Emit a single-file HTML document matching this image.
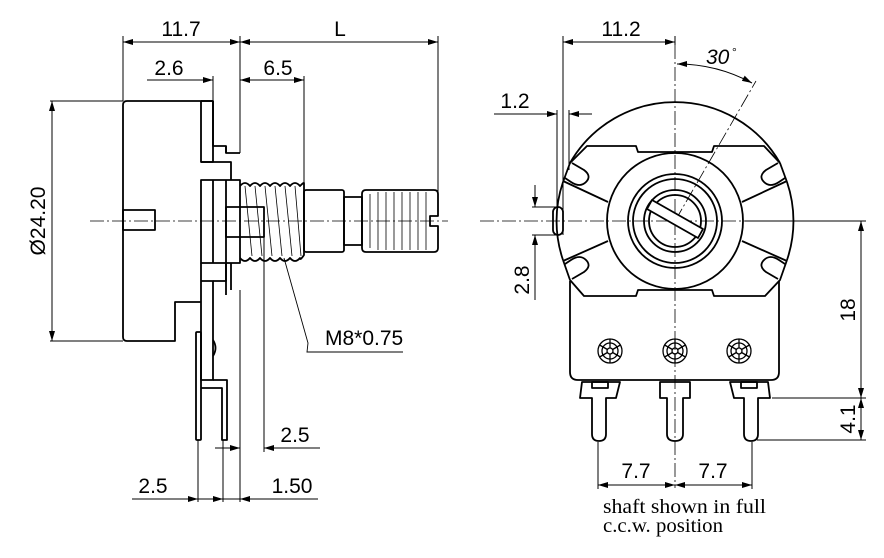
<!DOCTYPE html>
<html><head><meta charset="utf-8"><style>
html,body{margin:0;padding:0;background:#fff}
svg{display:block}
text{font-family:"Liberation Sans",sans-serif;font-size:21px;fill:#000}
.s{font-family:"Liberation Serif",serif;font-size:20px}
</style></head><body>
<svg width="884" height="558" viewBox="0 0 884 558" xmlns="http://www.w3.org/2000/svg">
<defs>
<marker id="a" viewBox="0 0 10 6" refX="10" refY="3" markerWidth="10" markerHeight="6" orient="auto-start-reverse" markerUnits="userSpaceOnUse"><path d="M0,0L10,3L0,6z" fill="#000"/></marker>
</defs>
<g fill="none" stroke="#000" stroke-width="1">
<line x1="123" y1="42" x2="240" y2="42" marker-start="url(#a)" marker-end="url(#a)"/>
<line x1="240" y1="42" x2="438" y2="42" marker-start="url(#a)" marker-end="url(#a)"/>
<line x1="123" y1="36" x2="123" y2="101"/>
<line x1="240" y1="36" x2="240" y2="153"/>
<line x1="438" y1="36" x2="438" y2="193"/>
<line x1="147" y1="80" x2="213" y2="80" marker-end="url(#a)"/>
<line x1="240" y1="80" x2="304" y2="80" marker-start="url(#a)" marker-end="url(#a)"/>
<line x1="213" y1="76" x2="213" y2="101"/>
<line x1="304" y1="76" x2="304" y2="183"/>
<line x1="50" y1="101" x2="123" y2="101"/>
<line x1="50" y1="341" x2="123" y2="341"/>
<line x1="52" y1="101" x2="52" y2="341" marker-start="url(#a)" marker-end="url(#a)"/>
<line x1="240" y1="290" x2="240" y2="502"/>
<line x1="264" y1="237" x2="264" y2="452"/>
<line x1="215" y1="448" x2="240" y2="448" marker-end="url(#a)"/>
<line x1="264" y1="448" x2="320" y2="448" marker-start="url(#a)"/>
<line x1="132" y1="499" x2="198" y2="499" marker-end="url(#a)"/>
<line x1="198" y1="499" x2="223" y2="499" marker-end="url(#a)"/>
<line x1="223" y1="499" x2="240" y2="499"/>
<line x1="240" y1="499" x2="318" y2="499" marker-start="url(#a)"/>
<line x1="198" y1="440" x2="198" y2="502"/>
<line x1="223" y1="440" x2="223" y2="502"/>
<polyline points="284,258 308,343 307,352 403,352" stroke-width="0.9"/>
<line x1="90" y1="221" x2="448" y2="221" stroke-dasharray="14,3,2,3" stroke-width="0.8"/>
</g>
<g fill="none" stroke="#000" stroke-width="1.8" stroke-linejoin="round">
<path d="M213,101 H127 Q123,101 123,105 V337 Q123,341 127,341 H175 V302 H201"/>
<path d="M201,101 H213 V146 H226 V153 H240"/>
<path d="M213,101 V162 H201 V101"/>
<path d="M201,162 H231 V180"/>
<path d="M226,146 V153"/>
<rect x="201" y="180" width="39" height="83"/>
<line x1="213" y1="180" x2="213" y2="263"/>
<line x1="226" y1="180" x2="226" y2="263"/>
<rect x="123" y="210" width="32" height="20"/>
<rect x="226" y="207" width="38" height="30"/>
<path d="M240,186 q5,-6 10,0 q5,-6 10,0 q5,-6 10,0 q5,-6 10,0 q5,-6 10,0 q5,-6 10,0 q4,-4 4,-3 V255 q-4,6 -4,3 q-5,6 -10,0 q-5,6 -10,0 q-5,6 -10,0 q-5,6 -10,0 q-5,6 -10,0 q-5,6 -10,0"/>
<rect x="304" y="190" width="40" height="62" rx="2"/>
<rect x="344" y="197" width="18" height="48"/>
<path d="M366,190 H434 Q438,190 438,194 V216 H430 V226 H438 V248 Q438,252 434,252 H366 Q362,252 362,248 V194 Q362,190 366,190 Z"/>
<path d="M201,263 V281 H213 V380 H201 V281"/>
<path d="M213,281 H226 V263"/>
<path d="M226,263 V295"/>
<path d="M231,263 V290"/>
<rect x="196" y="332" width="5" height="108" rx="1"/>
<path d="M201,388 H222 V440 H227 V380 H213"/>
<path d="M213,340 q5,8 0,16"/>
</g>
<g stroke="#000" stroke-width="0.8" fill="none">
<line x1="245" y1="186" x2="252" y2="256"/><line x1="255" y1="186" x2="262" y2="256"/><line x1="265" y1="186" x2="272" y2="256"/><line x1="275" y1="186" x2="282" y2="256"/><line x1="285" y1="186" x2="292" y2="256"/><line x1="295" y1="186" x2="301" y2="256"/>
<line x1="370" y1="194" x2="370" y2="248"/><line x1="378" y1="192" x2="378" y2="250"/><line x1="386" y1="192" x2="386" y2="250"/><line x1="394" y1="192" x2="394" y2="250"/><line x1="402" y1="192" x2="402" y2="250"/><line x1="410" y1="192" x2="410" y2="250"/><line x1="418" y1="192" x2="418" y2="250"/><line x1="426" y1="192" x2="426" y2="250"/>
</g>
<g text-anchor="middle">
<text x="181" y="36">11.7</text>
<text x="340" y="36">L</text>
<text x="169" y="75">2.6</text>
<text x="278" y="75">6.5</text>
<text transform="translate(45,221) rotate(-90)">Ø24.20</text>
<text x="295" y="442">2.5</text>
<text x="153" y="493">2.5</text>
<text x="292" y="493">1.50</text>
</g>
<text x="325" y="345">M8*0.75</text>

<g fill="none" stroke="#000" stroke-width="1">
<line x1="563" y1="42" x2="675" y2="42" marker-start="url(#a)" marker-end="url(#a)"/>
<line x1="563" y1="36" x2="563" y2="235"/>
<line x1="675" y1="36" x2="675" y2="45"/>
<line x1="494" y1="114" x2="557" y2="114" marker-end="url(#a)"/>
<line x1="569" y1="114" x2="592" y2="114" marker-start="url(#a)"/>
<line x1="557" y1="110" x2="557" y2="230"/>
<line x1="569" y1="110" x2="569" y2="170"/>
<line x1="532" y1="207" x2="560" y2="207"/>
<line x1="532" y1="235" x2="560" y2="235"/>
<line x1="535" y1="185" x2="535" y2="207" marker-end="url(#a)"/>
<line x1="535" y1="300" x2="535" y2="235" marker-end="url(#a)"/>
<line x1="745" y1="221" x2="866" y2="221"/>
<line x1="772" y1="398" x2="866" y2="398"/>
<line x1="757" y1="440" x2="866" y2="440"/>
<line x1="861" y1="221" x2="861" y2="398" marker-start="url(#a)" marker-end="url(#a)"/>
<line x1="861" y1="398" x2="861" y2="440" marker-start="url(#a)" marker-end="url(#a)"/>
<line x1="598" y1="442" x2="598" y2="489"/>
<line x1="752" y1="442" x2="752" y2="489"/>
<line x1="598" y1="485" x2="675" y2="485" marker-start="url(#a)" marker-end="url(#a)"/>
<line x1="675" y1="485" x2="752" y2="485" marker-start="url(#a)" marker-end="url(#a)"/>
<path d="M677,64 A157,157 0 0 1 752,83" marker-start="url(#a)" marker-end="url(#a)"/>
<line x1="675" y1="221" x2="756" y2="81" stroke-dasharray="14,3,2,3" stroke-width="0.8"/>
<line x1="675" y1="45" x2="675" y2="488" stroke-dasharray="14,3,2,3" stroke-width="0.8"/>
<line x1="480" y1="221" x2="866" y2="221" stroke-dasharray="14,3,2,3" stroke-width="0.8"/>
</g>
<g fill="none" stroke="#000" stroke-width="1.8" stroke-linejoin="round">
<path d="M570,163 A121,121 0 0 1 780,163"/>
<path d="M563,182 A121,121 0 0 0 563,260"/>
<path d="M787,182 A121,121 0 0 1 787,260"/>
<path d="M570,163 L563,182"/>
<path d="M780,163 L787,182"/>
<path d="M570,163 L587,146 H636 L638,152 H712 L714,146 H764 L780,163"/>
<path d="M563,260 L570,280 L584,296 H636 L638,290 H712 L714,296 H765 L780,280 L787,260"/>
<line x1="563" y1="181" x2="608" y2="202"/><line x1="563" y1="261" x2="608" y2="241"/>
<line x1="787" y1="181" x2="742" y2="202"/><line x1="787" y1="261" x2="742" y2="241"/>
<circle cx="675" cy="221" r="68"/>
<circle cx="675" cy="221" r="47"/>
<circle cx="675" cy="221" r="42"/>
<circle cx="675" cy="221" r="31"/>
<circle cx="675" cy="221" r="26"/>
<path d="M652,200 L703,229 L698,238 L647,209 Z" fill="#fff"/>
<rect x="553" y="207" width="10" height="28" rx="5"/>
<path d="M572,163 L584,170 Q592,176 586,182 Q580,188 571,182 L565,178"/>
<path d="M778,163 L766,170 Q758,176 764,182 Q770,188 779,182 L785,178"/>
<path d="M572,279 L584,272 Q592,266 586,260 Q580,254 571,260 L565,264"/>
<path d="M778,279 L766,272 Q758,266 764,260 Q770,254 779,260 L785,264"/>
<path d="M570,281 V372 Q570,380 578,380 H771 Q779,380 779,372 V281"/>
<path d="M582,382 H620 L616,398 H606 V434 Q606,441 599,441 Q592,441 592,434 V398 H580 Z"/>
<rect x="592" y="382" width="16" height="6"/>
<path d="M660,382 H690 V398 H683 V434 Q683,441 675,441 Q667,441 667,434 V398 H660 Z"/>
<path d="M768,382 H730 L734,398 H744 V434 Q744,441 751,441 Q758,441 758,434 V398 H770 Z"/>
<rect x="741" y="382" width="16" height="6"/>
</g>
<g fill="none" stroke="#000" stroke-width="1.3">
<g transform="translate(610,351)"><circle r="12"/><circle r="3"/><path d="M0,-3 L0,-12 M2.6,1.5 L10.4,6 M-2.6,1.5 L-10.4,6 M0,3 V12 M2.6,-1.5 L10.4,-6 M-2.6,-1.5 L-10.4,-6"/><circle r="8"/></g>
<g transform="translate(675,351)"><circle r="12"/><circle r="3"/><path d="M0,-3 L0,-12 M2.6,1.5 L10.4,6 M-2.6,1.5 L-10.4,6 M0,3 V12 M2.6,-1.5 L10.4,-6 M-2.6,-1.5 L-10.4,-6"/><circle r="8"/></g>
<g transform="translate(739,351)"><circle r="12"/><circle r="3"/><path d="M0,-3 L0,-12 M2.6,1.5 L10.4,6 M-2.6,1.5 L-10.4,6 M0,3 V12 M2.6,-1.5 L10.4,-6 M-2.6,-1.5 L-10.4,-6"/><circle r="8"/></g>
</g>
<g text-anchor="middle">
<text x="621" y="36">11.2</text>
<text x="515" y="108">1.2</text>
<text transform="translate(529,280) rotate(-90)">2.8</text>
<text transform="translate(855,310) rotate(-90)">18</text>
<text transform="translate(855,419) rotate(-90)">4.1</text>
<text x="636" y="478">7.7</text>
<text x="713" y="478">7.7</text>
</g>
<text x="706" y="64" font-style="italic">30</text><text x="732" y="56" style="font-size:12px">°</text>
<text class="s" x="603" y="513" textLength="163" lengthAdjust="spacingAndGlyphs">shaft shown in full</text>
<text class="s" x="603" y="532" textLength="120" lengthAdjust="spacingAndGlyphs">c.c.w. position</text>
</svg>
</body></html>
